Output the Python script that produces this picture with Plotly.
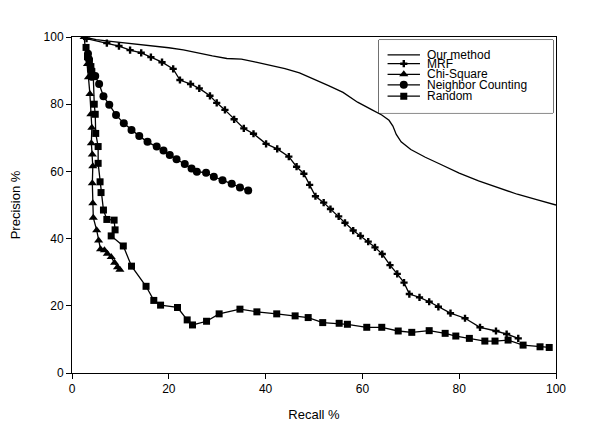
import plotly.graph_objects as go

FONT = "Liberation Sans, Arial, sans-serif"

# ---- data ----
our_x = [2.5, 5, 8, 10, 13, 16, 20, 23, 26, 29, 32, 35, 38, 41, 44, 47, 50, 53, 56, 59, 62, 64, 65.5, 66.3, 67, 68, 70, 73, 76, 80, 84, 88, 92, 96, 100]
our_y = [100, 99.2, 98.7, 98.4, 98, 97.4, 96.8, 96.2, 95.2, 94.4, 93.6, 93.4, 92.5, 91.6, 90.6, 89.3, 87.5, 85.5, 83.5, 80.6, 78.3, 76.8, 75.2, 73.5, 71, 68.8, 66.5, 64.2, 62.2, 59.5, 57.2, 55.2, 53.2, 51.6, 50]

mrf_x = [3, 7.2, 9.7, 12, 14.3, 16.3, 18.6, 20.9, 22.3, 24.5, 26.3, 28.5, 29.9, 31.6, 33.5, 35.5, 37.5, 40.1, 42.4, 44.8, 46.4, 47.9, 49.1, 50.3, 52, 53.4, 55.1, 56.4, 58.1, 59.6, 61.2, 62.6, 64.1, 65.7, 67.2, 68.6, 69.7, 71.8, 73.8, 75.7, 78.2, 81.2, 84.3, 87.6, 89.8, 92.2]
mrf_y = [99.5, 98.2, 97.3, 96.1, 95.3, 94, 92.5, 90.5, 87.2, 86, 84.7, 82.5, 80.4, 78.3, 75.5, 72.8, 71.2, 68.2, 66.7, 64.4, 61.4, 59.3, 56, 52.6, 50.7, 48.8, 46.6, 44.7, 42.4, 40.8, 39.1, 37.4, 35.4, 32.1, 29.5, 26.9, 23.5, 22.5, 21.2, 19.7, 17.8, 16.3, 13.6, 12.5, 11.6, 10.3]

chi_x = [2.5, 3.2, 3.4, 3.7, 3.9, 4.1, 4.0, 4.2, 4.3, 4.2, 4.3, 4.4, 5.1, 5.5, 5.9, 6.7, 7.3, 8.1, 8.8, 9.4, 9.9]
chi_y = [100, 92, 88, 83, 77, 73, 68.4, 65, 61.5, 56.5, 50.5, 46.2, 42.5, 39.4, 36.8, 36.5, 35.5, 34.5, 32.8, 31.5, 30.7]

nc_x = [3.3, 3.5, 3.9, 4.1, 4.8, 5.6, 6.5, 7.7, 9.1, 10.7, 12.3, 13.9, 15.6, 17.5, 18.9, 20.2, 21.6, 23.3, 24.7, 25.8, 27.7, 29.3, 31.1, 33, 34.7, 36.4]
nc_y = [95, 93.4, 90.2, 88.2, 88.4, 86, 82.4, 79.8, 76.8, 74.3, 72.3, 70.5, 68.8, 67.4, 66.2, 64.9, 63.6, 62.2, 60.9, 59.9, 59.6, 58.4, 57.4, 56.3, 55.2, 54.3]

rnd_x = [2.9, 3.2, 3.6, 3.9, 4.1, 4.4, 4.6, 4.8, 4.9, 5.4, 5.4, 5.8, 6.0, 6.5, 7.2, 8.7, 8.9, 8.1, 10.6, 12.3, 15.3, 16.9, 18.3, 21.8, 23.8, 24.9, 27.8, 30.4, 34.7, 38.2, 42.3, 46.1, 48.8, 51.8, 55.2, 56.9, 60.9, 64, 67.4, 70.2, 73.8, 77.1, 79.3, 82.1, 85.3, 87.4, 90.1, 93.2, 96.7, 98.6]
rnd_y = [96.9, 94.1, 92.7, 91.2, 89.7, 88.2, 80, 77, 71.3, 67.4, 62.4, 56.9, 53.7, 48.5, 45.7, 45.5, 42.6, 40.8, 37.8, 31.8, 25.8, 21.6, 20.2, 19.5, 15.8, 14.3, 15.4, 17.6, 19.0, 18.2, 17.6, 17.0, 16.5, 15.0, 14.8, 14.5, 13.6, 13.6, 12.5, 12.1, 12.6, 11.8, 11.0, 10.3, 9.5, 9.5, 9.8, 8.3, 7.8, 7.6]

labels = ["Our method", "MRF", "Chi-Square", "Neighbor Counting", "Random"]
symbols = [None, "cross", "triangle-up", "circle", "square"]
sizes = [0, 6, 8, 8, 7]
series = [(our_x, our_y), (mrf_x, mrf_y), (chi_x, chi_y), (nc_x, nc_y), (rnd_x, rnd_y)]

fig = go.Figure()
for (xs, ys), lab, sym, sz in zip(series, labels, symbols, sizes):
    if sym is None:
        fig.add_trace(go.Scatter(x=xs, y=ys, mode="lines", name=lab,
                                 line=dict(color="black", width=1.3), showlegend=False))
    else:
        fig.add_trace(go.Scatter(x=xs, y=ys, mode="lines+markers", name=lab,
                                 line=dict(color="black", width=1.3),
                                 marker=dict(symbol=sym, size=sz, color="black"),
                                 showlegend=False))

# ---- custom compact legend (overlay axis in legend box) ----
leg_y = [0.795, 0.675, 0.53, 0.385, 0.23]
for lab, sym, sz, ly in zip(labels, symbols, sizes, leg_y):
    fig.add_trace(go.Scatter(x=[0.05, 0.236], y=[ly, ly], mode="lines",
                             line=dict(color="black", width=1.3),
                             xaxis="x2", yaxis="y2", showlegend=False, hoverinfo="skip"))
    if sym is not None:
        fig.add_trace(go.Scatter(x=[0.143], y=[ly], mode="markers",
                                 marker=dict(symbol=sym, size=sz, color="black"),
                                 xaxis="x2", yaxis="y2", showlegend=False, hoverinfo="skip"))
    fig.add_annotation(x=0.27, y=ly, xref="x2", yref="y2", text=lab, showarrow=False,
                       xanchor="left", yanchor="middle", borderpad=0,
                       font=dict(family=FONT, size=12, color="black"))

fig.add_shape(type="rect", xref="paper", yref="paper", x0=0.634, x1=0.994, y0=0.774, y1=0.991,
              line=dict(color="black", width=1), fillcolor="white", layer="below")

axis_common = dict(showgrid=False, zeroline=False, showline=True, linecolor="black", linewidth=1,
                   ticks="outside", ticklen=5, tickcolor="black", mirror=True, automargin=False,
                   tickfont=dict(family=FONT, size=12, color="black"))

fig.update_layout(
    width=593, height=433,
    margin=dict(l=64, r=45, t=29, b=68),
    paper_bgcolor="white", plot_bgcolor="white",
    font=dict(family=FONT, color="black"),
    xaxis=dict(range=[0, 100], tickvals=[0, 20, 40, 60, 80, 100],
               title=dict(text="Recall %", font=dict(family=FONT, size=13), standoff=14),
               **axis_common),
    yaxis=dict(range=[0, 100], tickvals=[0, 20, 40, 60, 80, 100],
               title=dict(text="Precision %", font=dict(family=FONT, size=13), standoff=23),
               **axis_common),
    xaxis2=dict(domain=[0.634, 0.994], range=[0, 1], visible=False, anchor="y2", fixedrange=True),
    yaxis2=dict(domain=[0.774, 0.991], range=[0, 1], visible=False, anchor="x2", fixedrange=True),
    showlegend=False,
)

fig.write_html("out.html")
